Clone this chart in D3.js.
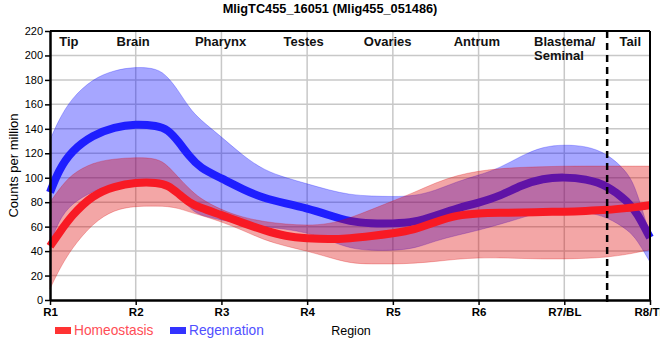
<!DOCTYPE html>
<html>
<head>
<meta charset="utf-8">
<script src="https://cdn.jsdelivr.net/npm/d3@7"></script>
<style>
  html, body { margin: 0; padding: 0; background: #fff; }
  svg { display: block; font-family: "Liberation Sans", Arial, sans-serif; }
</style>
</head>
<body>
<svg id="chart" width="660" height="360"></svg>
<script>
// ---- data ----
const title = "MligTC455_16051 (Mlig455_051486)";
const regionPos = [1, 1.1, 1.25, 1.5, 1.75, 2, 2.25, 2.375, 2.5, 2.625, 2.75, 3, 3.25, 3.5, 3.75, 4, 4.25, 4.5, 4.75, 5, 5.25, 5.5, 5.75, 6, 6.25, 6.5, 6.75, 7, 7.25, 7.5, 7.75, 7.85, 8];
const regMean = [88, 106, 122, 135, 141.5, 144, 142.5, 139.5, 129.5, 117.5, 108, 99.5, 90.5, 83, 79, 75, 69.5, 64, 62.5, 62.5, 63.5, 69, 75, 79.5, 85, 94, 99.5, 100.5, 99, 94, 80, 71, 51];
const regHigh = [131, 147, 165, 181, 188, 190.7, 189.5, 182.5, 171, 157, 147.5, 133.5, 118, 106, 100, 95, 90, 86, 85, 84.5, 85, 89.5, 97, 102, 108, 118, 125.5, 127, 126, 120, 104, 88, 53];
const regLow = [45, 65, 79, 89, 95, 97, 95.5, 95.5, 87, 75, 69, 65.5, 62, 60, 58, 55, 49, 42, 40.5, 40.5, 42, 48.5, 53, 57, 62, 67, 73, 74, 72, 68, 57, 49, 31];
const homMean = [44, 54, 69, 86, 93, 96.2, 96, 94, 87, 79.5, 75.5, 69.5, 63, 57, 52, 50.4, 49.6, 50.4, 52.3, 54.5, 57.2, 64, 69.5, 71, 71.3, 71.5, 72, 72.2, 72.8, 73.6, 75.3, 76, 77.6];
const homHigh = [80, 90, 103, 112.5, 115.5, 116.6, 116, 110, 100, 91, 83, 73.6, 67.5, 64, 62, 61, 62, 67, 74, 81, 88, 96, 102, 105.5, 107.5, 108.5, 109, 109.5, 109.5, 109.5, 109.5, 109.5, 109.5];
const homLow = [9, 24, 42, 63, 74, 76.8, 76.8, 76.5, 75, 72, 69.5, 64, 57, 49, 44, 40, 35, 30, 29.4, 29.4, 30, 31.5, 33.5, 34.5, 34.5, 34, 33.5, 33.5, 34, 35, 37.5, 39, 41];
const xTickValues = [1, 2, 3, 4, 5, 6, 7, 8];
const xTickLabels = ["R1", "R2", "R3", "R4", "R5", "R6", "R7/BL", "R8/TL"];
const yTickValues = [0, 20, 40, 60, 80, 100, 120, 140, 160, 180, 200, 220];
const regionNames = ["Tip", "Brain", "Pharynx", "Testes", "Ovaries", "Antrum", "Blastema/|Seminal", "Tail"];
const tailBoundary = 7.5;
const seriesNames = ["Homeostasis", "Regenration"];

// ---- layout ----
const regionLabelAt = [1.22, 1.97, 2.99, 3.96, 4.94, 5.98, 6.647, 7.77];
const regionAnchor = ["middle", "middle", "middle", "middle", "middle", "middle", "start", "middle"];

const svg = d3.select("#chart");
const x = d3.scaleLinear().domain([1, 8]).range([50, 650]);
const y = d3.scaleLinear().domain([0, 220]).range([300, 31]);

const pts = (arr) => regionPos.map((r, i) => ({ r, v: arr[i] }));
const band = (lo, hi) => regionPos.map((r, i) => ({ r, lo: lo[i], hi: hi[i] }));

// grid
const grid = svg.append("g");
grid.selectAll("line.h").data(yTickValues.slice(1, -1)).enter().append("line")
  .attr("x1", x(1)).attr("x2", x(8)).attr("y1", d => y(d)).attr("y2", d => y(d))
  .attr("stroke", "#c8c8c8").attr("stroke-width", 1.5);
grid.selectAll("line.v").data(xTickValues.slice(1, -1)).enter().append("line")
  .attr("x1", d => x(d)).attr("x2", d => x(d)).attr("y1", y(0)).attr("y2", y(220))
  .attr("stroke", "#c8c8c8").attr("stroke-width", 1.5);

const curve = d3.curveBasis;
const area = d3.area().curve(curve)
  .x(d => x(d.r)).y0(d => y(d.lo)).y1(d => y(d.hi));
const line = d3.line().curve(curve)
  .x(d => x(d.r)).y(d => y(d.v));

// regeneration band + line
svg.append("path").datum(band(regLow, regHigh)).attr("d", area)
  .attr("fill", "rgba(0,0,255,0.35)").attr("stroke", "rgba(0,0,255,0.25)").attr("stroke-width", 1);
svg.append("path").datum(pts(regMean)).attr("d", line)
  .attr("fill", "none").attr("stroke", "#1e1eff").attr("stroke-width", 8);

// homeostasis band + line
svg.append("path").datum(band(homLow, homHigh)).attr("d", area)
  .attr("fill", "rgba(220,0,0,0.35)").attr("stroke", "rgba(220,0,0,0.25)").attr("stroke-width", 1);
svg.append("path").datum(pts(homMean)).attr("d", line)
  .attr("fill", "none").attr("stroke", "#f81a24").attr("stroke-width", 8);

// axes
const yAxis = d3.axisLeft(y).tickValues(yTickValues).tickSize(5).tickSizeOuter(0).tickPadding(2);
const gy = svg.append("g").attr("transform", `translate(${x(1)},0)`).call(yAxis);
gy.select(".domain").attr("stroke", "#000").attr("stroke-width", 2.5);
gy.selectAll(".tick line").attr("stroke", "#000").attr("stroke-width", 1.5);
gy.selectAll(".tick text").attr("font-size", 11).attr("fill", "#000")
  .attr("font-family", "'Liberation Sans', Arial, sans-serif");

const xAxis = d3.axisBottom(x).tickValues(xTickValues).tickFormat((d, i) => xTickLabels[i])
  .tickSize(5).tickSizeOuter(0).tickPadding(3);
const gx = svg.append("g").attr("transform", `translate(0,${y(0)})`).call(xAxis);
gx.select(".domain").attr("stroke", "#000").attr("stroke-width", 2.5);
gx.selectAll(".tick line").attr("stroke", "#000").attr("stroke-width", 1.5);
gx.selectAll(".tick text").attr("font-size", 11.5).attr("font-weight", "bold").attr("fill", "#000")
  .attr("font-family", "'Liberation Sans', Arial, sans-serif");

// top & right border
svg.append("line").attr("x1", x(1)).attr("x2", x(8)).attr("y1", y(220)).attr("y2", y(220))
  .attr("stroke", "#000").attr("stroke-width", 2);
svg.append("line").attr("x1", x(8)).attr("x2", x(8)).attr("y1", y(220)).attr("y2", y(0))
  .attr("stroke", "#000").attr("stroke-width", 2);

// tail boundary
svg.append("line").attr("x1", x(tailBoundary)).attr("x2", x(tailBoundary))
  .attr("y1", y(220)).attr("y2", y(0) + 3)
  .attr("stroke", "#000").attr("stroke-width", 2.5).attr("stroke-dasharray", "7,5");

// region labels
regionNames.forEach((name, i) => {
  const t = svg.append("text").attr("x", x(regionLabelAt[i])).attr("y", 46)
    .attr("text-anchor", regionAnchor[i]).attr("font-weight", "bold").attr("font-size", 13)
    .attr("fill", "#111");
  name.split("|").forEach((part, k) => {
    t.append("tspan").attr("x", x(regionLabelAt[i])).attr("dy", k === 0 ? 0 : 14).text(part);
  });
});

// title
svg.append("text").attr("x", 330).attr("y", 13).attr("text-anchor", "middle")
  .attr("font-weight", "bold").attr("font-size", 12.75).attr("fill", "#000").text(title);

// y label
svg.append("text").attr("transform", `translate(18,${(y(0) + y(220)) / 2}) rotate(-90)`)
  .attr("text-anchor", "middle").attr("font-size", 13).attr("fill", "#000").text("Counts per million");

// x label
svg.append("text").attr("x", 351).attr("y", 335).attr("text-anchor", "middle")
  .attr("font-size", 12.5).attr("fill", "#000").text("Region");

// legend
const legend = svg.append("g");
const legColors = ["#ff3333", "#3333ff"];
const legText = ["#ff4d55", "#5050ff"];
const legX = [55, 170];
seriesNames.forEach((n, i) => {
  legend.append("rect").attr("x", legX[i]).attr("y", 327).attr("width", 16).attr("height", 7)
    .attr("fill", legColors[i]);
  legend.append("text").attr("x", legX[i] + 19).attr("y", 335).attr("font-size", 13.75)
    .attr("fill", legText[i]).text(n);
});
</script>
</body>
</html>
